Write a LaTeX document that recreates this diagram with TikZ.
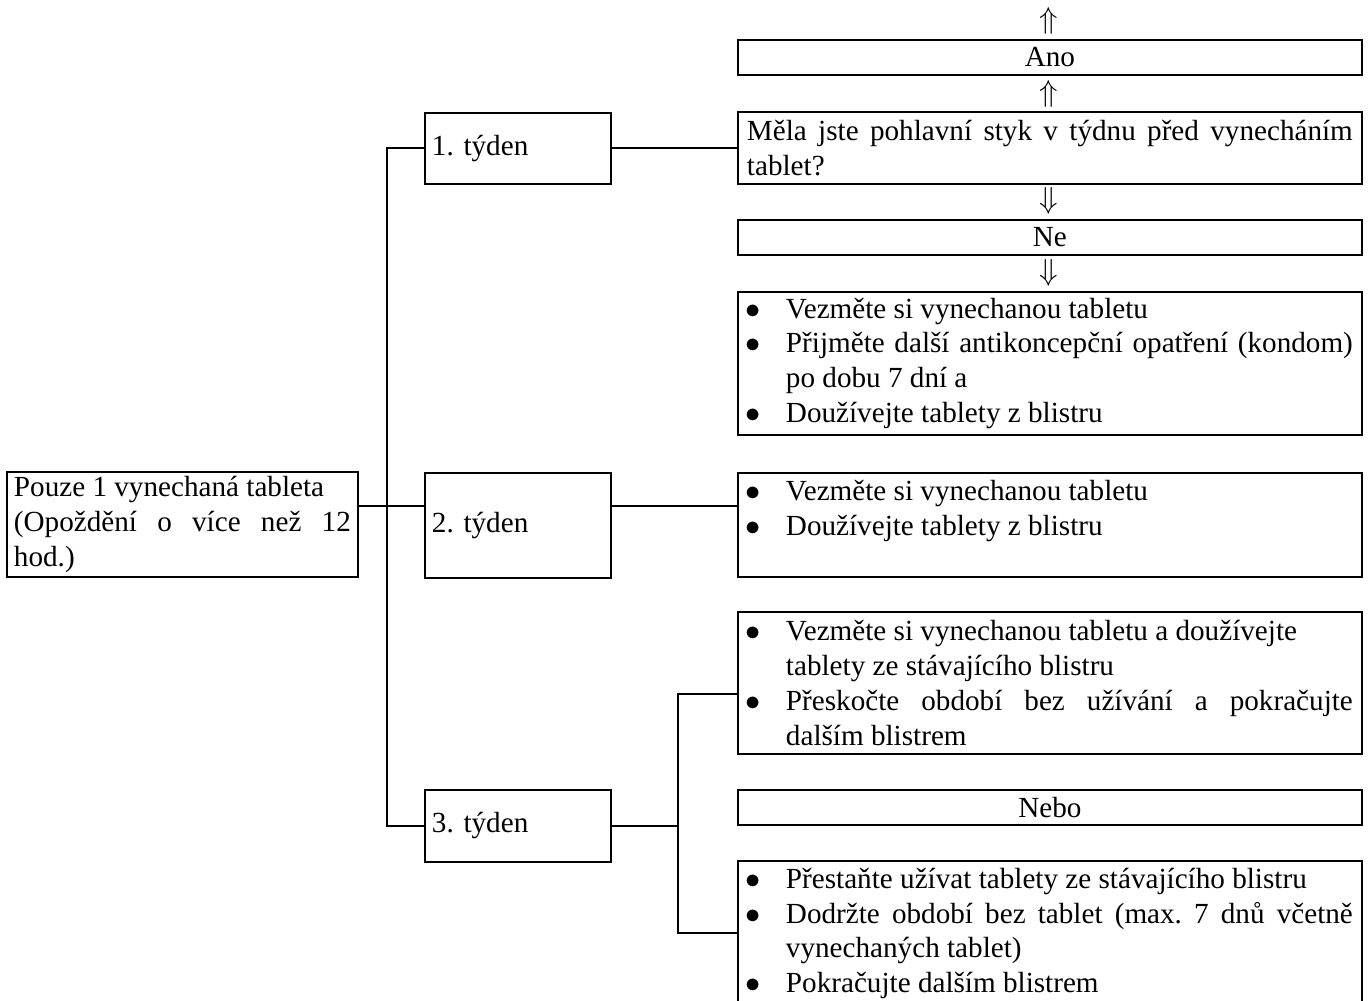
\documentclass[tikz,border=0pt]{standalone}
\usepackage{fontspec}
\setmainfont{Liberation Serif}
\usetikzlibrary{positioning}
\hyphenpenalty=10000
\exhyphenpenalty=10000
\frenchspacing
\newcommand{\bitem}[1]{\noindent\hangindent=0.78cm\hangafter=1\makebox[0.78cm][l]{\hspace{-0.03cm}$\bullet$}#1\par}

\begin{document}
\begin{tikzpicture}[x=0.02cm,y=-0.02cm,line width=1.1pt,
    box/.style={draw,anchor=north west,inner ysep=0pt,font=\fontsize{16.6}{19.9}\selectfont},
    weekbox/.style={box,inner xsep=0.14cm,text width=3.44cm,align=left},
    listbox/.style={box,inner xsep=0.18cm,text width=12.12cm,align=justify},
    labelbox/.style={box,minimum width=12.48cm,minimum height=0.7cm,align=center},
    sign/.style={font=\fontsize{19}{19}\selectfont,inner sep=0pt}]
      \useasboundingbox (0,0) rectangle (1368,1000);

      \node[box,inner xsep=0.14cm,text width=6.74cm,align=justify,minimum height=2.1cm] (start) at (6,471)
        {Pouze 1 vynechaná tableta\newline (Opoždění o více než 12\linebreak hod.)};

      \node[weekbox,minimum height=1.42cm] (w1) at (424,112) {1. týden};
      \node[weekbox,minimum height=2.1cm] (w2) at (424,472) {2. týden};
      \node[weekbox,minimum height=1.44cm] (w3) at (424,789) {3. týden};

      \node[labelbox] (ano) at (737,39) {Ano};
      \node[listbox,minimum height=1.44cm] (q) at (737,111)
        {Měla jste pohlavní styk v týdnu před vynecháním\linebreak tablet?};
      \node[labelbox] (ne) at (737,219) {Ne};
      \node[listbox,minimum height=2.86cm] (b1) at (737,291)
        {\bitem{Vezměte si vynechanou tabletu}
         \bitem{Přijměte další antikoncepční opatření (kondom)\linebreak po dobu 7 dní a}
         \bitem{Doužívejte tablety z blistru}};
      \node[listbox,minimum height=2.08cm] (b2) at (737,472)
        {\bitem{Vezměte si vynechanou tabletu}
         \bitem{Doužívejte tablety z blistru}
         \mbox{}};
      \node[listbox,minimum height=2.84cm] (b3a) at (737,611)
        {\bitem{Vezměte si vynechanou tabletu a doužívejte\newline tablety ze stávajícího blistru}
         \bitem{Přeskočte období bez užívání a pokračujte\linebreak dalším blistrem}};
      \node[labelbox] (nebo) at (737,789) {Nebo};
      \node[listbox,minimum height=2.9cm] (b3c) at (737,860)
        {\bitem{Přestaňte užívat tablety ze stávajícího blistru}
         \bitem{Dodržte období bez tablet (max. 7 dnů včetně\linebreak vynechaných tablet)}
         \bitem{Pokračujte dalším blistrem}};

      \node[sign] (up1) at (1049,21) {$\Uparrow$};
      \node[sign] (up2) at (1049,94) {$\Uparrow$};
      \node[sign] (down1) at (1049,201) {$\Downarrow$};
      \node[sign] (down2) at (1049,273) {$\Downarrow$};

      \coordinate (tr) at (387,506);
      \coordinate (s3) at (678,824);
      \coordinate (s3a) at (678,694);
      \coordinate (s3c) at (678,933);

      \draw (start.east |- tr) -- (w2.west |- tr);
      \draw (w1.west) -| (tr |- w3.west) -- (w3.west);
      \draw (w1.east) -- (q.west |- w1.east);
      \draw (w2.east |- tr) -- (b2.west |- tr);
      \draw (w3.east) -- (s3 |- w3.east);
      \draw (b3a.west |- s3a) -| (s3c) -- (b3c.west |- s3c);
\end{tikzpicture}
\end{document}
